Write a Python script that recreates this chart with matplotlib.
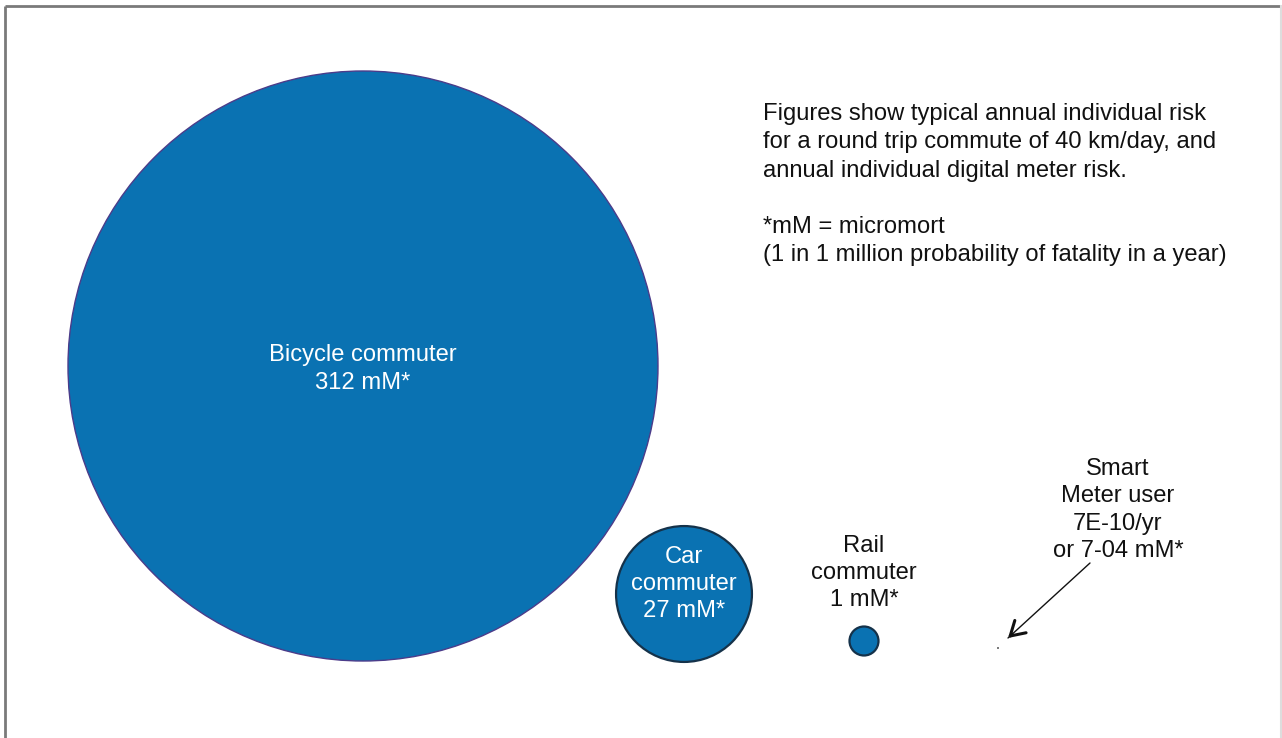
import matplotlib.pyplot as plt
from matplotlib.patches import Circle

plt.rcParams["font.family"] = ["Liberation Sans", "DejaVu Sans"]

# annual risk, micromorts (mM)
groups = ["Bicycle commuter", "Car commuter", "Rail commuter", "Smart meter user"]
risk_mM = [312, 27, 1, 7e-4]
labels = ["Bicycle commuter\n312 mM*",
          "Car\ncommuter\n27 mM*",
          "Rail\ncommuter\n1 mM*",
          "Smart\nMeter user\n7E-10/yr\nor 7-04 mM*"]
note = ("Figures show typical annual individual risk\n"
        "for a round trip commute of 40 km/day, and\n"
        "annual individual digital meter risk.\n"
        "\n"
        "*mM = micromort\n"
        "(1 in 1 million probability of fatality in a year)")

# layout (pixel space of the slide)
W, H = 1282, 738
centres = [(363, 366), (684, 594), (864, 641), (998, 648)]
EXP = 0.60
SCALE = 295 / 312 ** EXP
BLUE = "#0a72b2"
FS = 17.1
LS = 1.32

fig = plt.figure(figsize=(W / 100, H / 100), dpi=100)
ax = fig.add_axes([0, 0, 1, 1])
ax.set_xlim(0, W)
ax.set_ylim(H, 0)
ax.set_aspect("equal")
ax.axis("off")

edges = ["#4b3c8a", "#15324a"]
for (cx, cy), v in zip(centres, risk_mM):
    if v >= 1:
        r = max(SCALE * v ** EXP, 14.5)
        ec = edges[0] if v > 100 else edges[1]
        lw = 1.0 if v > 100 else 1.6
        ax.add_patch(Circle((cx, cy), r, facecolor=BLUE, edgecolor=ec, lw=lw))
    else:
        # far too small to see -- shown as a speck
        ax.add_patch(Circle((cx, cy), 0.9, facecolor="#333333", lw=0))

# labels inside / above circles
ax.text(363, 369, labels[0], color="white", fontsize=FS, ha="center",
        va="center", linespacing=LS)
ax.text(684, 584, labels[1], color="white", fontsize=FS, ha="center",
        va="center", linespacing=LS)
ax.text(864, 573, labels[2], color="#111111", fontsize=FS, ha="center",
        va="center", linespacing=LS)
ax.text(1118, 510, labels[3], color="#111111", fontsize=FS, ha="center",
        va="center", linespacing=LS)

# arrow to the (tiny) smart meter dot: thin shaft, heavier head
tip = (1008, 638)
start = (1090, 563)
ax.annotate("", xy=tip, xytext=start,
            arrowprops=dict(arrowstyle="-", color="#111111", lw=1.0,
                            shrinkA=0, shrinkB=0))
dx, dy = start[0] - tip[0], start[1] - tip[1]
ax.annotate("", xy=tip, xytext=(tip[0] + dx * 0.05, tip[1] + dy * 0.05),
            arrowprops=dict(arrowstyle="->,head_length=0.5,head_width=0.3",
                            color="#111111", lw=2.2, shrinkA=0, shrinkB=0,
                            mutation_scale=20))

ax.text(763, 103, note, color="#111111", fontsize=FS, ha="left", va="top",
        linespacing=1.37)

# slide frame
ax.plot([5, 5], [H, 6], color="#7a7a7a", lw=2.0, solid_capstyle="butt")
ax.plot([5, W], [6, 6], color="#7a7a7a", lw=2.0, solid_capstyle="butt")
ax.plot([W - 1, W - 1], [6, H], color="#dddddd", lw=1.5)

fig.savefig("out.png", dpi=100, facecolor="white")
